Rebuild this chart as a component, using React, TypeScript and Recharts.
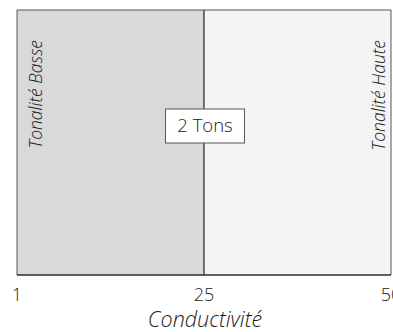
import React from 'react';
import {
  ComposedChart,
  Line,
  XAxis,
  YAxis,
  ReferenceArea,
  ReferenceLine,
} from 'recharts';

// tick values of the conductivity axis, drawn evenly spaced
const xTicks = [1, 25, 50];
const zoneStarts = [1, 25];
const zoneEnds = [25, 50];
const zoneNames = ['Tonalité Basse', 'Tonalité Haute'];
const zoneFills = ['#d9d9da', '#f4f4f4'];
const thresholdValue = 25;
const thresholdLabel = '2 Tons';
const axisTitle = 'Conductivité';

// position on the axis = index of the tick value
const pos = (v: number) => xTicks.indexOf(v);
const data = xTicks.map((v) => ({ x: pos(v), y: 0 }));

const FONT = '"Open Sans", "Segoe UI", sans-serif';
const EDGE = '#555555';
const INK = '#1a1a1a';

const ZoneLabel = ({ viewBox, text, side }: any) => {
  if (!viewBox) return null;
  const { x, y, width } = viewBox;
  const tx = side === 'left' ? x + 25 : x + width - 6;
  const ty = y + 30;
  return (
    <text
      x={tx}
      y={ty}
      transform={`rotate(-90, ${tx}, ${ty})`}
      textAnchor="end"
      fill={INK}
      fontFamily={FONT}
      fontStyle="italic"
      fontWeight={300}
      fontSize={17.5}
    >
      {text}
    </text>
  );
};

const ThresholdLabel = ({ viewBox }: any) => {
  if (!viewBox) return null;
  const cx = viewBox.x;
  const cy = 126;
  const w = 79;
  const h = 34;
  return (
    <g>
      <rect x={cx - w / 2 + 1} y={cy - h / 2} width={w} height={h} fill="#fff" stroke={EDGE} strokeWidth={1} />
      <text
        x={cx + 1}
        y={cy + 1}
        textAnchor="middle"
        dominantBaseline="middle"
        fill={INK}
        fontFamily={FONT}
        fontWeight={300}
        fontSize={18.5}
      >
        {thresholdLabel}
      </text>
    </g>
  );
};

const AxisTitle = () => (
  <text
    x={205}
    y={327}
    textAnchor="middle"
    fill={INK}
    fontFamily={FONT}
    fontStyle="italic"
    fontWeight={300}
    fontSize={21.5}
  >
    {axisTitle}
  </text>
);

export default function App() {
  return (
    <div style={{ position: 'fixed', left: 0, top: 0, width: 393, height: 332, overflow: 'hidden', background: '#fff' }}>
      <ComposedChart width={408} height={332} data={data} margin={{ top: 10, right: 17, left: 17, bottom: 0 }}>
        <XAxis
          dataKey="x"
          type="number"
          domain={[0, xTicks.length - 1]}
          ticks={xTicks.map(pos)}
          tickFormatter={(i: number) => String(xTicks[i])}
          height={57}
          axisLine={{ stroke: INK, strokeWidth: 1 }}
          tickLine={false}
          tickMargin={7}
          tick={{ fill: INK, fontFamily: FONT, fontWeight: 300, fontSize: 18 }}
          label={<AxisTitle />}
        />
        <YAxis type="number" domain={[0, 1]} hide />
        {zoneNames.map((name, i) => (
          <ReferenceArea
            key={name}
            x1={pos(zoneStarts[i])}
            x2={pos(zoneEnds[i])}
            y1={0}
            y2={1}
            fill={zoneFills[i]}
            fillOpacity={1}
            stroke={EDGE}
            strokeWidth={1}
            ifOverflow="visible"
            label={<ZoneLabel text={name} side={i === 0 ? 'left' : 'right'} />}
          />
        ))}
        <ReferenceLine x={pos(thresholdValue)} stroke={EDGE} strokeWidth={1} label={<ThresholdLabel />} />
        <Line dataKey="y" stroke="none" dot={false} isAnimationActive={false} />
      </ComposedChart>
    </div>
  );
}
